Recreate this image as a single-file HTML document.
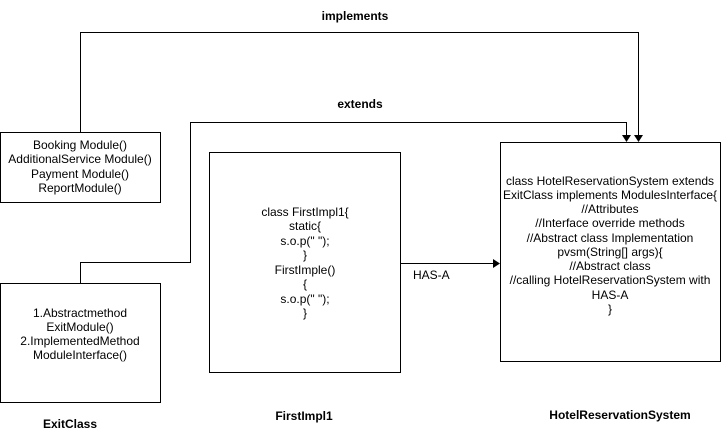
<!DOCTYPE html>
<html><head><meta charset="utf-8"><style>body{margin:0;background:#fff}svg{display:block}</style></head><body>
<svg width="721" height="440" viewBox="0 0 721 440" xmlns="http://www.w3.org/2000/svg" font-family="Liberation Sans, Arial, sans-serif" font-size="12" fill="#000">
<g fill="none" stroke="#000" stroke-width="1">
<rect x="0.5" y="132.5" width="160" height="70"/>
<rect x="0.5" y="283.5" width="160" height="119"/>
<rect x="209.5" y="152.5" width="191" height="220"/>
<rect x="500.5" y="142.5" width="220" height="219"/>
<polyline points="80.5,132 80.5,32.5 638.5,32.5 638.5,136"/>
<polyline points="80.5,283 80.5,262.5 190.5,262.5 190.5,122.5 626.5,122.5 626.5,136"/>
<line x1="400" y1="263.5" x2="494" y2="263.5"/>
</g>
<polygon points="634,135 643,135 638.5,142" fill="#000"/>
<polygon points="622,135 631,135 626.5,142" fill="#000"/>
<polygon points="493,259 500,263.5 493,268" fill="#000"/>
<g font-weight="bold" text-anchor="middle">
<text x="355" y="20">implements</text>
<text x="360" y="108">extends</text>
<text x="70" y="428">ExitClass</text>
<text x="304" y="420">FirstImpl1</text>
<text x="620" y="419">HotelReservationSystem</text>
</g>
<text x="413" y="279">HAS-A</text>
<g text-anchor="middle">
<text x="80" y="149">Booking Module()</text>
<text x="80" y="163">AdditionalService Module()</text>
<text x="80" y="178">Payment Module()</text>
<text x="80" y="192">ReportModule()</text>
<text x="80" y="317">1.Abstractmethod</text>
<text x="80" y="331">ExitModule()</text>
<text x="80" y="345">2.ImplementedMethod</text>
<text x="80" y="359">ModuleInterface()</text>
<text x="305" y="216">class FirstImpl1{</text>
<text x="305" y="230">static{</text>
<text x="305" y="245">s.o.p(" ");</text>
<text x="305" y="259">}</text>
<text x="305" y="274">FirstImple()</text>
<text x="305" y="288">{</text>
<text x="305" y="303">s.o.p(" ");</text>
<text x="305" y="317">}</text>
<text x="610" y="185">class HotelReservationSystem extends</text>
<text x="610" y="199">ExitClass implements ModulesInterface{</text>
<text x="610" y="213">//Attributes</text>
<text x="610" y="227">//Interface override methods</text>
<text x="610" y="242">//Abstract class Implementation</text>
<text x="610" y="256">pvsm(String[] args){</text>
<text x="610" y="270">//Abstract class</text>
<text x="610" y="284">//calling HotelReservationSystem with</text>
<text x="610" y="299">HAS-A</text>
<text x="610" y="313">}</text>
</g>
</svg>
</body></html>
